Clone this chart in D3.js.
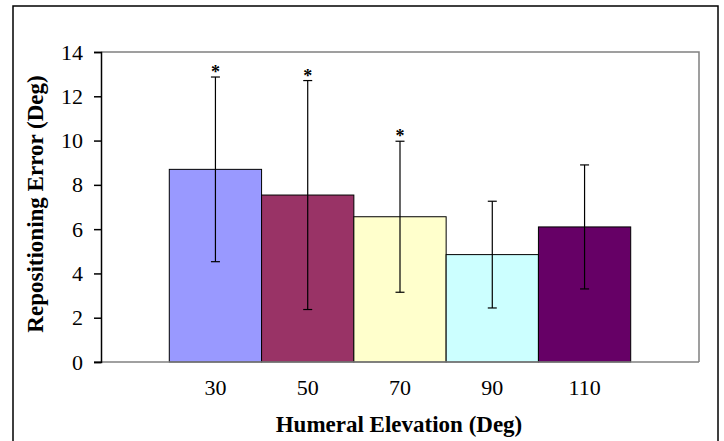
<!DOCTYPE html>
<meta charset="utf-8">
<style>
body { margin: 0; background: #fff; }
svg text { font-family: "Liberation Serif", "Times New Roman", serif; fill: #000; }
.axis text { font-size: 22px; }
.title { font-size: 23px; font-weight: bold; }
</style>
<svg width="724" height="441"></svg>
<script src="https://cdn.jsdelivr.net/npm/d3@7"></script>
<script>

var categories = ["30", "50", "70", "90", "110"];
var means = [8.7, 7.54, 6.56, 4.85, 6.1];
var errors = [4.17, 5.17, 3.41, 2.41, 2.8];
var stars = [true, true, true, false, false];
var colors = ["#9999FF", "#993366", "#FFFFCC", "#CCFFFF", "#660066"];
var yTicks = [0, 2, 4, 6, 8, 10, 12, 14];

var svg = d3.select("svg");

// outer chart frame
svg.append("rect")
  .attr("x", 13).attr("y", 6)
  .attr("width", 705).attr("height", 450)
  .attr("fill", "#fff").attr("stroke", "#000").attr("stroke-width", 1.5);

var plotL = 101, plotR = 699, plotT = 52, plotB = 362;

var x = d3.scaleBand().domain(categories).range([plotL, plotR])
  .paddingInner(0).paddingOuter(0.74);
var y = d3.scaleLinear().domain([0, 14]).range([plotB, plotT]);

// plot area border (top, right)
svg.append("path")
  .attr("d", "M" + plotL + "," + plotT + "H" + plotR + "V" + plotB)
  .attr("fill", "none").attr("stroke", "#808080").attr("stroke-width", 1.5);

var rows = categories.map(function(c, i) {
  return {cat: c, mean: means[i], err: errors[i], star: stars[i], color: colors[i]};
});

svg.selectAll(".bar").data(rows).enter().append("rect")
  .attr("class", "bar")
  .attr("x", function(d) { return x(d.cat); })
  .attr("y", function(d) { return y(d.mean); })
  .attr("width", x.bandwidth())
  .attr("height", function(d) { return y(0) - y(d.mean); })
  .attr("fill", function(d) { return d.color; })
  .attr("stroke", "#000").attr("stroke-width", 1);

// x axis line
svg.append("line")
  .attr("x1", plotL - 7).attr("x2", plotR)
  .attr("y1", plotB).attr("y2", plotB)
  .attr("stroke", "#808080").attr("stroke-width", 1.5);

// error bars
var eb = svg.selectAll(".err").data(rows).enter().append("g")
  .attr("class", "err")
  .attr("stroke", "#000").attr("stroke-width", 1.2);
eb.append("line")
  .attr("x1", function(d) { return x(d.cat) + x.bandwidth() / 2; })
  .attr("x2", function(d) { return x(d.cat) + x.bandwidth() / 2; })
  .attr("y1", function(d) { return y(d.mean + d.err); })
  .attr("y2", function(d) { return y(d.mean - d.err); });
[1, -1].forEach(function(s) {
  eb.append("line")
    .attr("x1", function(d) { return x(d.cat) + x.bandwidth() / 2 - 4.5; })
    .attr("x2", function(d) { return x(d.cat) + x.bandwidth() / 2 + 4.5; })
    .attr("y1", function(d) { return y(d.mean + s * d.err); })
    .attr("y2", function(d) { return y(d.mean + s * d.err); });
});

svg.selectAll(".star").data(rows.filter(function(d) { return d.star; })).enter().append("text")
  .attr("class", "star")
  .attr("x", function(d) { return x(d.cat) + x.bandwidth() / 2; })
  .attr("y", function(d) { return y(d.mean + d.err) + 1; })
  .attr("text-anchor", "middle")
  .style("font-size", "18px").style("font-weight", "bold")
  .text("*");

// y axis
var yAxis = svg.append("g").attr("class", "axis")
  .attr("transform", "translate(" + plotL + ",0)")
  .call(d3.axisLeft(y).tickValues(yTicks).tickSize(7).tickPadding(11));
yAxis.select(".domain").attr("stroke", "#000").attr("stroke-width", 1.5);
yAxis.selectAll(".tick line").attr("stroke", "#000").attr("stroke-width", 1.5);

// x axis labels
var xAxis = svg.append("g").attr("class", "axis")
  .attr("transform", "translate(0," + plotB + ")")
  .call(d3.axisBottom(x).tickSize(0).tickPadding(17));
xAxis.select(".domain").remove();

svg.append("text").attr("class", "title")
  .attr("x", 399).attr("y", 432)
  .attr("text-anchor", "middle")
  .text("Humeral Elevation (Deg)");

svg.append("text").attr("class", "title")
  .attr("transform", "translate(43,204) rotate(-90)")
  .attr("text-anchor", "middle")
  .text("Repositioning Error (Deg)");

</script>
